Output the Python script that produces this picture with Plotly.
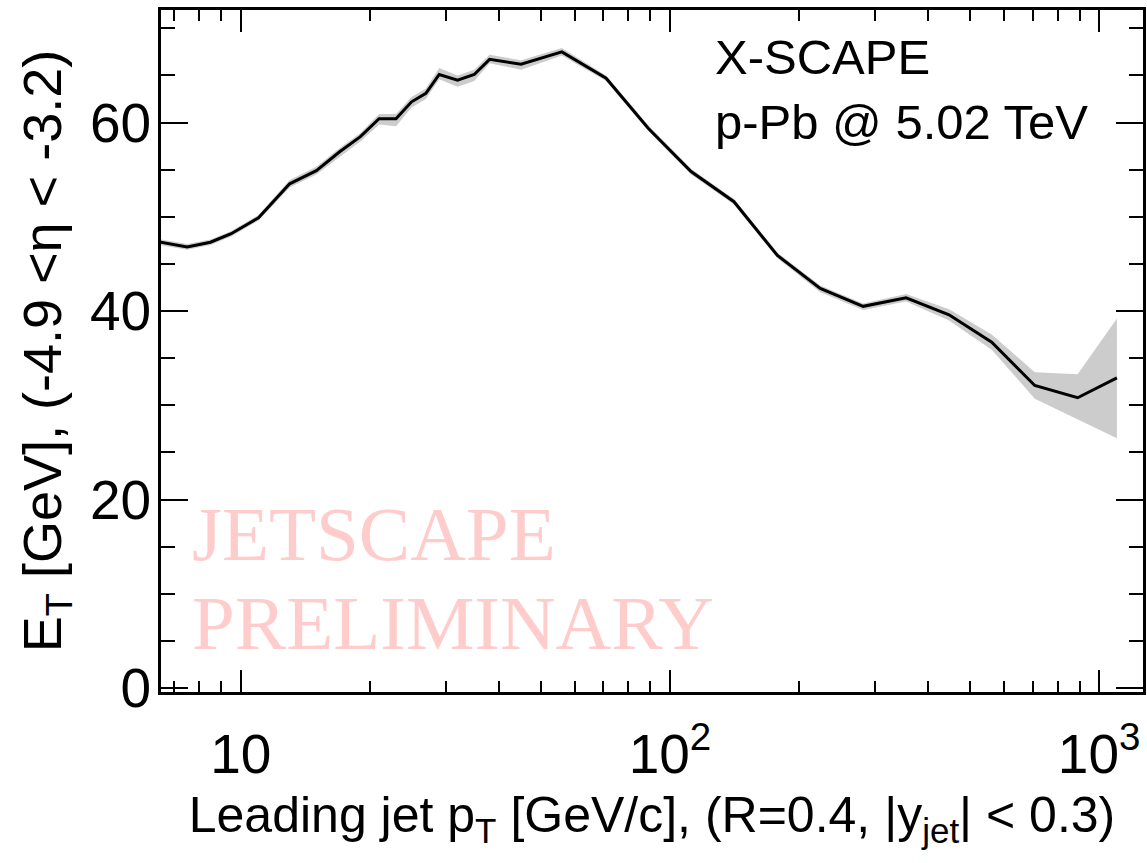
import numpy as np
import plotly.graph_objects as go

# Leading jet pT [GeV/c]
pt = [6.5, 7.5, 8.5, 9.5, 11, 13, 15, 17, 19, 21, 23, 25, 27, 29, 32, 35, 38, 45,
      56, 71, 89, 112, 141, 178, 224, 282, 355, 447, 562, 708, 891, 1100]
# E_T [GeV] in -4.9 < eta < -3.2
et = [47.3, 46.8, 47.3, 48.2, 49.9, 53.5, 54.9, 56.9, 58.5, 60.4, 60.4, 62.2, 63.1, 65.1,
      64.5, 65.1, 66.7, 66.2, 67.5, 64.7, 59.4, 54.8, 51.6, 45.9, 42.4, 40.5, 41.4, 39.6,
      36.7, 32.1, 30.8, 32.9]
err_up = [0.3, 0.3, 0.3, 0.3, 0.3, 0.4, 0.4, 0.4, 0.4, 0.5, 0.5, 0.5, 0.5, 0.7, 0.5, 0.5,
          0.5, 0.4, 0.4, 0.3, 0.3, 0.3, 0.3, 0.3, 0.3, 0.3, 0.4, 0.6, 0.8, 1.4, 2.5, 6.3]
err_dn = [0.3, 0.3, 0.3, 0.3, 0.3, 0.4, 0.4, 0.5, 0.5, 0.6, 0.8, 0.6, 0.6, 0.5, 0.7, 0.7,
          0.4, 0.6, 0.4, 0.3, 0.3, 0.3, 0.3, 0.3, 0.4, 0.4, 0.4, 0.6, 0.8, 1.4, 2.3, 6.4]

x_tickvals = [10, 100, 1000]
x_ticktext = ["10", "10<sup>2</sup>", "10<sup>3</sup>"]
x_minor = [7, 8, 9, 20, 30, 40, 50, 60, 70, 80, 90, 200, 300, 400, 500, 600, 700, 800, 900]
y_tickvals = [0, 20, 40, 60]

lo = [v - e for v, e in zip(et, err_dn)]
hi = [v + e for v, e in zip(et, err_up)]

SANS = "Liberation Sans, Arial, Helvetica, sans-serif"
SERIF = "Liberation Serif, Times New Roman, serif"

fig = go.Figure()
fig.add_trace(go.Scatter(x=pt, y=lo, mode="lines", line=dict(width=0, color="#cccccc"),
                         showlegend=False, hoverinfo="skip"))
fig.add_trace(go.Scatter(x=pt, y=hi, mode="lines", line=dict(width=0, color="#cccccc"),
                         fill="tonexty", fillcolor="#cccccc", showlegend=False, hoverinfo="skip"))
fig.add_trace(go.Scatter(x=pt, y=et, mode="lines", line=dict(width=3, color="black"),
                         showlegend=False))

L, R, T, B = 161, 1, 10, 171
W, H = 1147, 863
pw = W - L - R
ph = H - T - B
xlo = 1 - (241 - L) / 430.5
xhi = xlo + pw / 430.5
ylo = -0.42
yhi = ylo + ph / 9.425

fig.update_layout(
    width=W, height=H,
    margin=dict(l=L, r=R, t=T, b=B),
    paper_bgcolor="white", plot_bgcolor="white",
    font=dict(family=SANS, color="black"),
    showlegend=False,
)
fig.update_xaxes(
    type="log", range=[xlo, xhi],
    tickmode="array", tickvals=x_tickvals, ticktext=x_ticktext,
    tickfont=dict(size=55, family=SANS),
    ticks="inside", ticklen=22, tickwidth=2.2, tickcolor="black",
    ticklabelstandoff=12,
    minor=dict(tickmode="array", tickvals=x_minor, ticks="inside", ticklen=11,
               tickwidth=2.2, tickcolor="black", showgrid=False),
    showline=True, linecolor="black", linewidth=2.6, mirror="allticks",
    showgrid=False, zeroline=False,
    title=dict(text="Leading jet p<sub>T</sub> [GeV/c], (R=0.4, |y<sub>jet</sub>| &lt; 0.3)",
               font=dict(size=50, family=SANS), standoff=14),
)
fig.update_yaxes(
    range=[ylo, yhi],
    tickmode="array", tickvals=y_tickvals,
    tickfont=dict(size=55, family=SANS),
    ticks="inside", ticklen=27, tickwidth=2.2, tickcolor="black",
    ticklabelstandoff=-4,
    minor=dict(dtick=5, ticks="inside", ticklen=14, tickwidth=2.2, tickcolor="black",
               showgrid=False),
    showline=True, linecolor="black", linewidth=2.6, mirror="allticks",
    showgrid=False, zeroline=False,
    title=dict(text="E<sub>T</sub> [GeV], (-4.9 &lt;η &lt; -3.2)",
               font=dict(size=54, family=SANS), standoff=12),
)


def px_x(p):
    return (p - L) / pw


def px_y(p):
    return 1 - (p - T) / ph


fig.add_annotation(text="X-SCAPE", xref="paper", yref="paper", x=px_x(715), y=px_y(57.5),
                   xanchor="left", yanchor="middle", showarrow=False,
                   font=dict(size=49, family=SANS, color="black"))
fig.add_annotation(text="p-Pb @ 5.02 TeV", xref="paper", yref="paper", x=px_x(715), y=px_y(122),
                   xanchor="left", yanchor="middle", showarrow=False,
                   font=dict(size=49, family=SANS, color="black"))
fig.add_annotation(text="JETSCAPE", xref="paper", yref="paper", x=px_x(190), y=px_y(534),
                   xanchor="left", yanchor="middle", showarrow=False,
                   font=dict(size=77, family=SERIF, color="#ffcccc"))
fig.add_annotation(text="PRELIMINARY", xref="paper", yref="paper", x=px_x(190), y=px_y(623),
                   xanchor="left", yanchor="middle", showarrow=False,
                   font=dict(size=77, family=SERIF, color="#ffcccc"))

fig.write_html("out.html")
